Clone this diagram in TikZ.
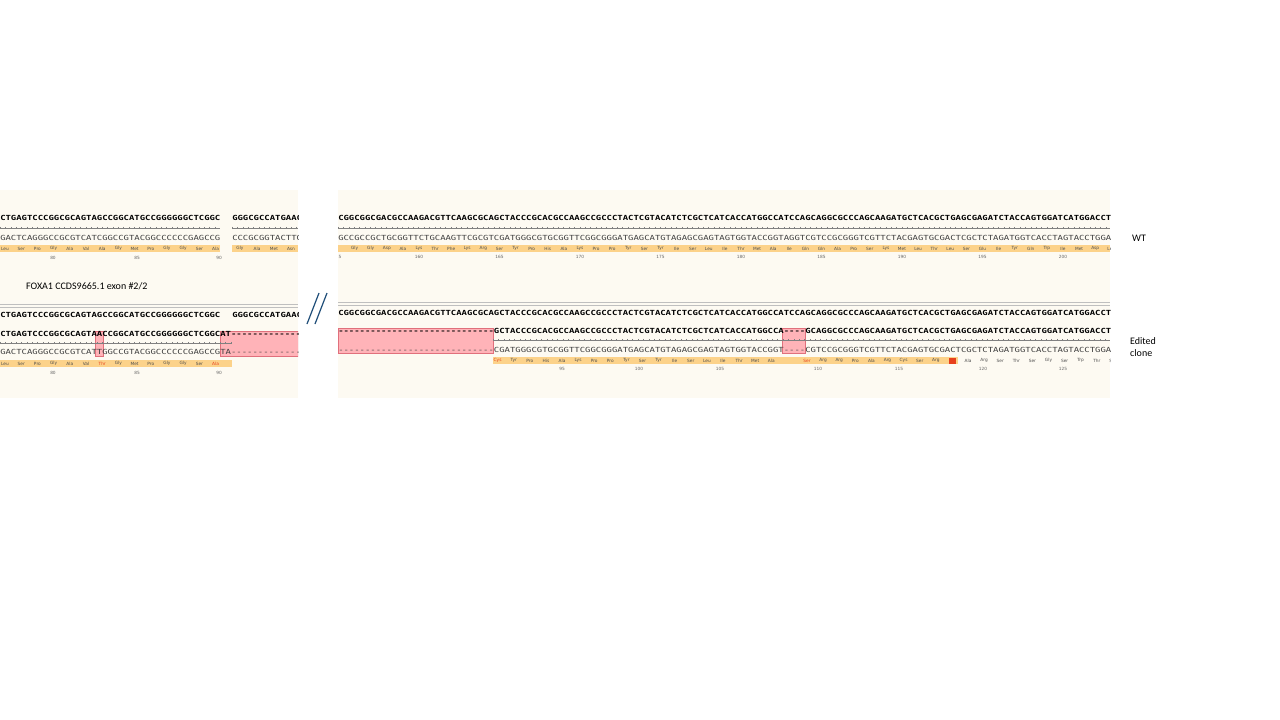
\documentclass[tikz,border=0pt]{standalone}
\usepackage{fontspec}
\setmainfont{Carlito}
\newfontfamily\seqfont{DejaVu Sans Mono}
\newfontfamily\aafont{DejaVu Sans}
\usetikzlibrary{positioning}
\definecolor{panelbg}{HTML}{FDFAF2}
\definecolor{aabar}{HTML}{FCD28A}
\definecolor{delfill}{HTML}{FFB3B8}
\definecolor{deldraw}{HTML}{E0707C}
\definecolor{mutred}{HTML}{E8401C}
\definecolor{slash}{HTML}{1F4E79}
\tikzset{
  seqtop/.style={anchor=west, inner sep=0pt, font=\seqfont\bfseries\fontsize{7}{7}\selectfont, xscale=1.274},
  seqbot/.style={anchor=west, inner sep=0pt, font=\seqfont\fontsize{7}{7}\selectfont, text=black!75, xscale=1.274},
  aa/.style={inner sep=0pt, font=\aafont\fontsize{4.3}{4.3}\selectfont, text=black!70},
  num/.style={inner sep=0pt, font=\aafont\fontsize{4.3}{4.3}\selectfont, text=black!60},
  lbl/.style={anchor=west, inner sep=0pt, font=\fontsize{10}{12}\selectfont, align=left},
  del/.style={fill=delfill, draw=deldraw, line width=0.5pt}
}
% tick ruler under a strand
\newcommand{\ruler}[3]{% x0, x1, y
  \draw[black!50, line width=0.3pt] (#1,#3) -- (#2,#3);
  \pgfmathsetmacro{\n}{int((#2-#1)/5.37)}
  \foreach \k in {0,...,\n}{
    \pgfmathsetmacro{\tx}{#1+\k*5.37}
    \draw[black!50, line width=0.3pt] (\tx,#3-1.2) -- (\tx,#3+1.2);
  }
}
\begin{document}
\begin{tikzpicture}[x=1pt,y=-1pt]
  \useasboundingbox[fill=white] (0,0) rectangle (1280,720);

  % panels
  \fill[panelbg] (0,190) rectangle (298,398);
  \fill[panelbg] (338,190) rectangle (1110,398);

  % ---------- left panel, WT ----------
  \begin{scope}
    \clip (0,190) rectangle (298,398);
    \node[seqtop] (lwtTop) at (0,218) {CTGAGTCCCGGCGCAGTAGCCGGCATGCCGGGGGGCTCGGC};
    \node[seqtop] (lwtTopB) at (232,218) {GGGCGCCATGAAC};
    \ruler{0}{220}{228}
    \ruler{232}{298}{228}
    \node[seqbot] (lwtBot) at (0,238) {GACTCAGGGCCGCGTCATCGGCCGTACGGCCCCCCGAGCCG};
    \node[seqbot] (lwtBotB) at (232,238) {CCCGCGGTACTTG};
    \fill[aabar] (0,245) rectangle (220,252);
    \fill[aabar] (232,245) rectangle (298,252);
    \foreach \a [count=\i from 0] in {Leu,Ser,Pro,Gly,Ala,Val,Ala,Gly,Met,Pro,Gly,Gly,Ser,Ala}
      \node[aa] at (5+\i*16.2,248.5) {\a};
    \foreach \a [count=\i from 0] in {Gly,Ala,Met,Asn}
      \node[aa] at (240+\i*17,248.5) {\a};
    \foreach \v/\x in {80/53,85/137,90/219}
      \node[num] at (\x,258) {\v};

    \draw[black!25, line width=0.6pt] (0,304) -- (298,304);
    \draw[black!25, line width=0.6pt] (0,307) -- (298,307);

    % ---------- left panel, edited ----------
    \node[seqtop] (ledRef) at (0,315) {CTGAGTCCCGGCGCAGTAGCCGGCATGCCGGGGGGCTCGGC};
    \node[seqtop] (ledRefB) at (232,315) {GGGCGCCATGAAC};
    \draw[del] (95,331) rectangle (103,356);
    \draw[del] (220,331) rectangle (298,356);
    \node[seqtop] (ledTop) at (0,334) {CTGAGTCCCGGCGCAGTAACCGGCATGCCGGGGGGCTCGGCAT-------------};
    \ruler{0}{232}{343}
    \node[seqbot] (ledBot) at (0,352) {GACTCAGGGCCGCGTCATTGGCCGTACGGCCCCCCGAGCCGTA-------------};
    \fill[aabar] (0,360) rectangle (232,367);
    \foreach \a/\c [count=\i from 0] in {Leu/black!70,Ser/black!70,Pro/black!70,Gly/black!70,Ala/black!70,Val/black!70,Thr/mutred,Gly/black!70,Met/black!70,Pro/black!70,Gly/black!70,Gly/black!70,Ser/black!70,Ala/mutred}
      \node[aa, text=\c] at (5+\i*16.2,363.5) {\a};
    \foreach \v/\x in {80/53,85/137,90/219}
      \node[num] at (\x,373) {\v};
  \end{scope}

  % break mark
  \draw[slash, line width=1.2pt] (307,324) -- (319,293);
  \draw[slash, line width=1.2pt] (315,324) -- (327,293);

  % ---------- right panel ----------
  \begin{scope}
    \clip (338,190) rectangle (1110,398);
    \node[seqtop] (rwtTop) at (338,218) {CGGCGGCGACGCCAAGACGTTCAAGCGCAGCTACCCGCACGCCAAGCCGCCCTACTCGTACATCTCGCTCATCACCATGGCCATCCAGCAGGCGCCCAGCAAGATGCTCACGCTGAGCGAGATCTACCAGTGGATCATGGACCTCA};
    \ruler{338}{1110}{228}
    \node[seqbot] (rwtBot) at (338,238) {GCCGCCGCTGCGGTTCTGCAAGTTCGCGTCGATGGGCGTGCGGTTCGGCGGGATGAGCATGTAGAGCGAGTAGTGGTACCGGTAGGTCGTCCGCGGGTCGTTCTACGAGTGCGACTCGCTCTAGATGGTCACCTAGTACCTGGAGT};
    \fill[aabar] (338,245) rectangle (1110,252);
    \foreach \a [count=\i from -4] in {Gly,Gly,Asp,Ala,Lys,Thr,Phe,Lys,Arg,Ser,Tyr,Pro,His,Ala,Lys,Pro,Pro,Tyr,Ser,Tyr,Ile,Ser,Leu,Ile,Thr,Met,Ala,Ile,Gln,Gln,Ala,Pro,Ser,Lys,Met,Leu,Thr,Leu,Ser,Glu,Ile,Tyr,Gln,Trp,Ile,Met,Asp,Leu}
      \node[aa] at (419+\i*16.1,248.5) {\a};
    \node[num] at (340,257) {5};
    \foreach \v [count=\i from 0] in {160,165,...,200}
      \node[num] at (419+\i*80.5,257) {\v};

    \draw[black!25, line width=0.6pt] (338,302) -- (1110,302);
    \draw[black!25, line width=0.6pt] (338,305) -- (1110,305);

    \node[seqtop] (redRef) at (338,313) {CGGCGGCGACGCCAAGACGTTCAAGCGCAGCTACCCGCACGCCAAGCCGCCCTACTCGTACATCTCGCTCATCACCATGGCCATCCAGCAGGCGCCCAGCAAGATGCTCACGCTGAGCGAGATCTACCAGTGGATCATGGACCTCA};
    \draw[del] (338,328) rectangle (493,353);
    \draw[del] (782,328) rectangle (805,353);
    \node[seqtop] (redTop) at (338,331) {-----------------------------GCTACCCGCACGCCAAGCCGCCCTACTCGTACATCTCGCTCATCACCATGGCCA----GCAGGCGCCCAGCAAGATGCTCACGCTGAGCGAGATCTACCAGTGGATCATGGACCTCA};
    \ruler{493}{1110}{340}
    \node[seqbot] (redBot) at (338,350) {-----------------------------CGATGGGCGTGCGGTTCGGCGGGATGAGCATGTAGAGCGAGTAGTGGTACCGGT----CGTCCGCGGGTCGTTCTACGAGTGCGACTCGCTCTAGATGGTCACCTAGTACCTGGAGT};
    \fill[aabar] (493,357) rectangle (958,364);
    \foreach \a/\c [count=\i from -4] in {Cys/mutred,Tyr/black!70,Pro/black!70,His/black!70,Ala/black!70,Lys/black!70,Pro/black!70,Pro/black!70,Tyr/black!70,Ser/black!70,Tyr/black!70,Ile/black!70,Ser/black!70,Leu/black!70,Ile/black!70,Thr/black!70,Met/black!70,Ala/black!70}
      \node[aa, text=\c] at (562+\i*16.1,360.5) {\a};
    \foreach \a/\c [count=\i from 0] in {Ser/mutred,Arg/black!70,Arg/black!70,Pro/black!70,Ala/black!70,Arg/black!70,Cys/black!70,Ser/black!70,Arg/black!70}
      \node[aa, text=\c] at (807+\i*16.1,360.5) {\a};
    \fill[mutred] (949,357.5) rectangle (956,363.5);
    \foreach \a [count=\i from 0] in {Ala,Arg,Ser,Thr,Ser,Gly,Ser,Trp,Thr,Ser}
      \node[aa] at (968+\i*16.1,360.5) {\a};
    \foreach \v/\x in {95/562,100/639,105/720,110/818,115/899,120/983,125/1063}
      \node[num] at (\x,369) {\v};
  \end{scope}

  % labels
  \node[lbl] (gene) at (26,286) {FOXA1 CCDS9665.1 exon \#2/2};
  \node[lbl] (wt) at (1132,238) {WT};
  \node[lbl] (edited) at (1130,347) {Edited\\clone};
\end{tikzpicture}
\end{document}
